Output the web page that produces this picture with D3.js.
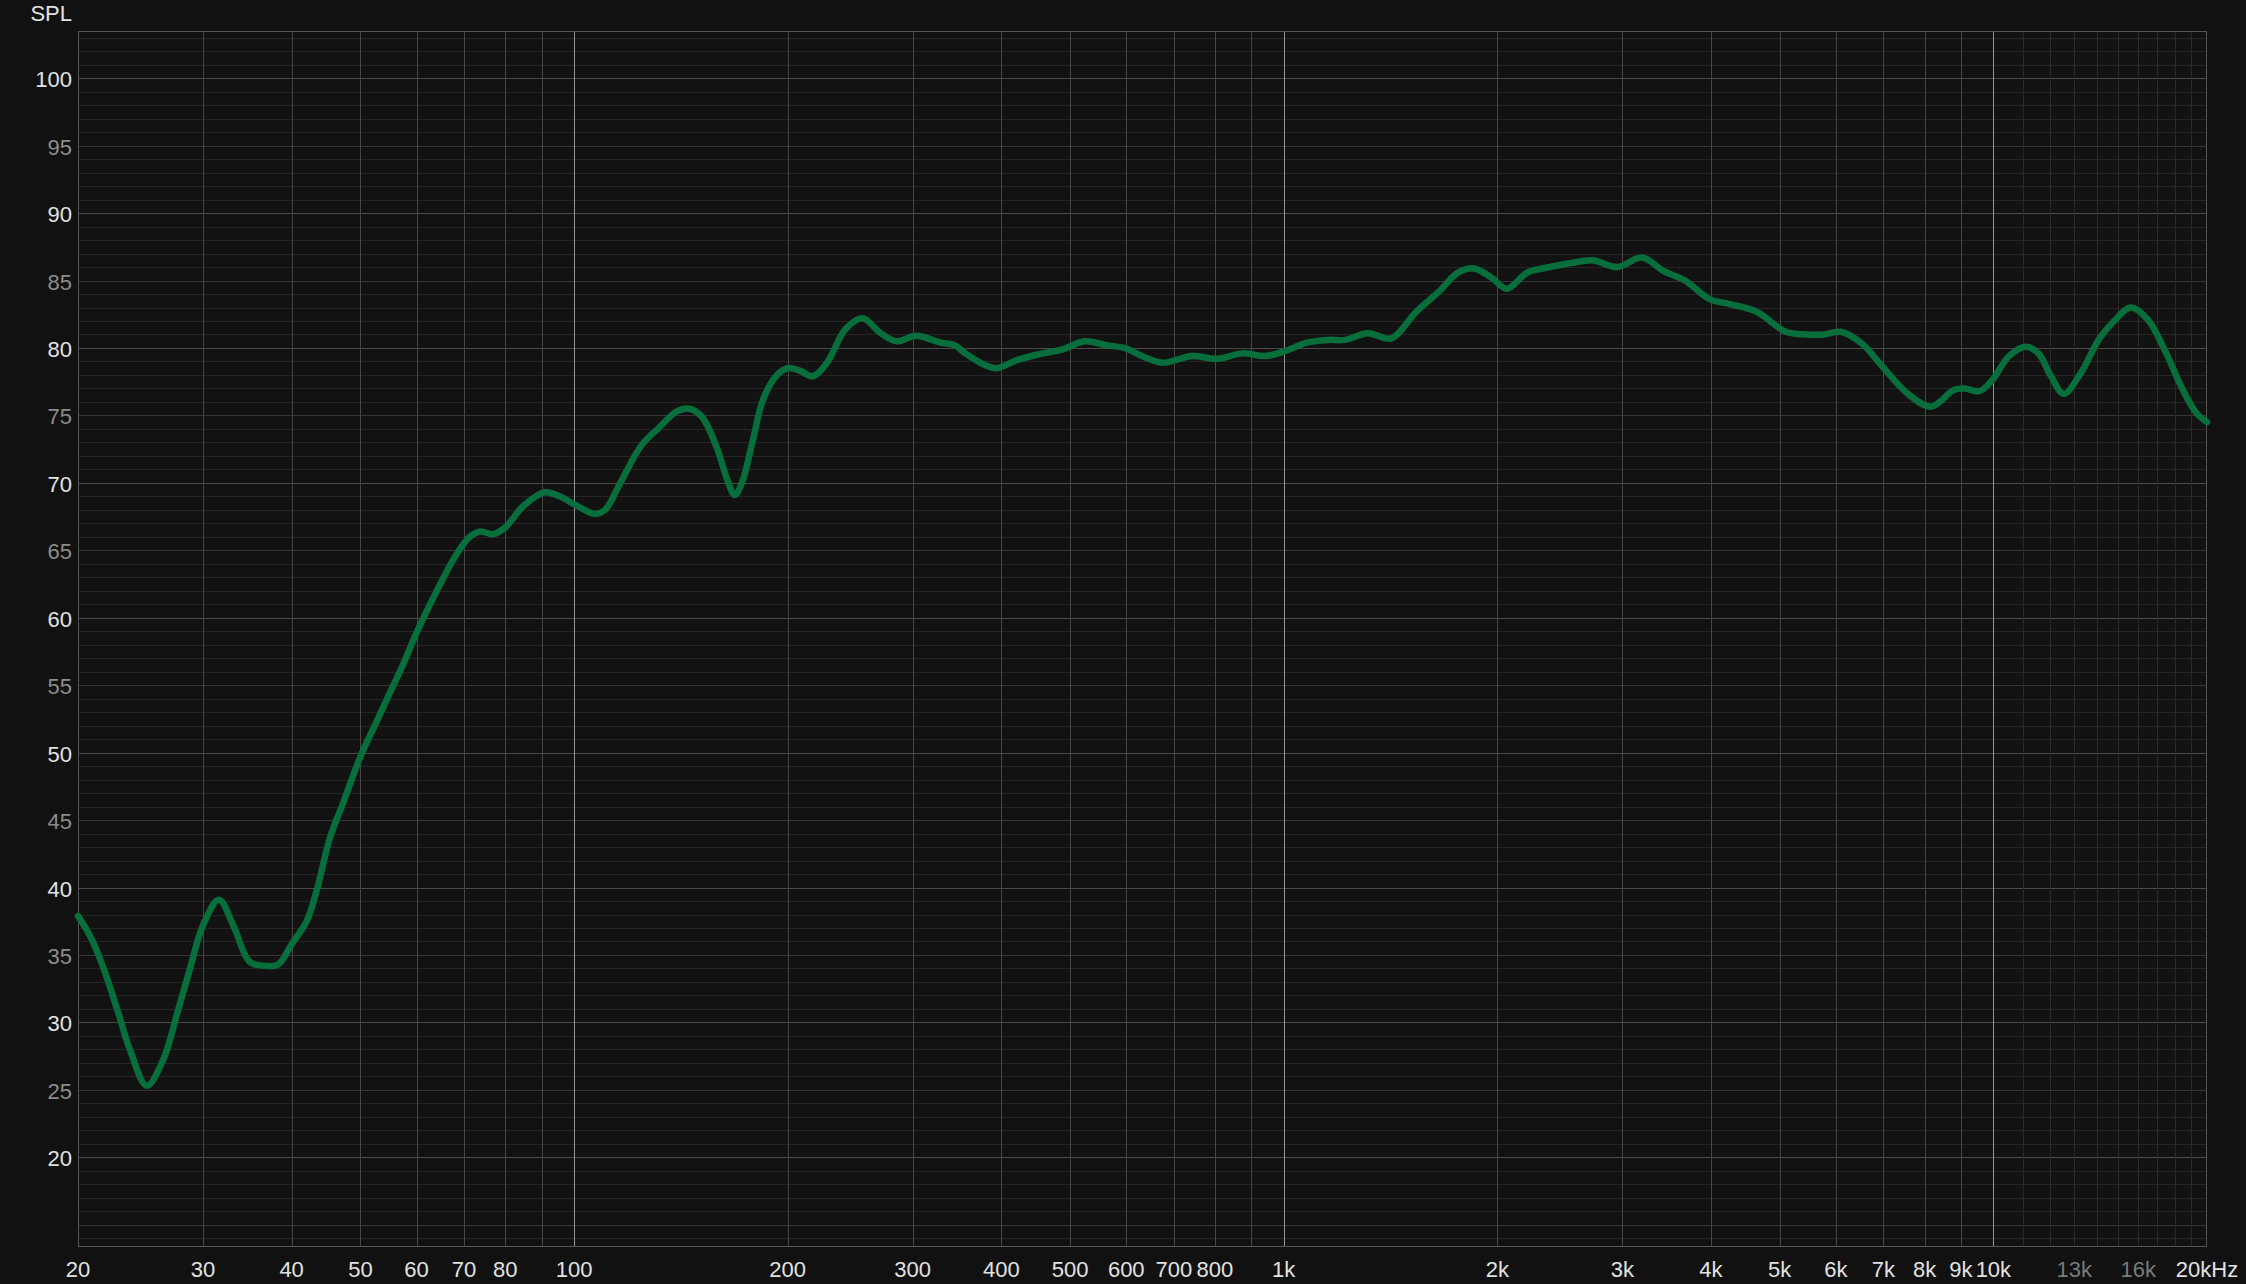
<!DOCTYPE html>
<html>
<head>
<meta charset="utf-8">
<script src="https://cdn.jsdelivr.net/npm/d3@7"></script>
<style>
  html, body { margin: 0; padding: 0; background: #111111; }
  svg { display: block; }
  text { font-family: "Liberation Sans", Arial, sans-serif; }
</style>
</head>
<body>
<svg id="chart" width="2246" height="1284"></svg>
<script>
// ---- data ----
const freqs = [20, 20.8, 21.7, 22.7, 23.7, 25.0, 26.4, 27.6, 28.8, 30.0, 31.6, 33.1, 34.9, 36.5, 38.3, 40.0, 42.0, 43.4, 45.3, 47.3,
  50.0, 52.7, 55.1, 57.5, 60.0, 64.5, 68.1, 71.3, 73.8, 76.9, 80, 84.9, 91.0, 95.4, 101, 107, 110.6, 116.2, 124.5, 131.8,
  139.6, 145.4, 151.4, 158.7, 164.5, 168.4, 172.4, 178.7, 184.7, 193.2, 200, 208.4, 216.8, 227.2, 241.3, 255.1, 270.3, 284.6, 303.4, 328.6,
  344, 356, 377, 394, 421, 458, 488, 524, 563, 596, 638, 676, 742, 806, 874, 942, 1008, 1078, 1154, 1219,
  1314, 1416, 1538, 1656, 1762, 1855, 1964, 2062, 2206, 2374, 2542, 2722, 2954, 3198, 3432, 3676, 3988, 4214, 4634, 5100,
  5462, 5768, 6090, 6520, 6982, 7578, 8172, 8806, 9114, 9560, 9958, 10520, 11110, 11574, 12058, 12566, 13266, 14106, 14798, 15628,
  16504, 17434, 18412, 19312, 20000];
const spl = [37.9, 36.4, 34.1, 31.0, 27.9, 25.3, 27.3, 30.7, 34.1, 37.2, 39.1, 37.2, 34.5, 34.2, 34.3, 35.8, 37.5, 39.8, 43.7, 46.3,
  49.7, 52.3, 54.5, 56.6, 58.9, 62.3, 64.6, 66.0, 66.4, 66.2, 66.7, 68.3, 69.3, 69.0, 68.3, 67.7, 68.0, 70.0, 72.8, 74.1,
  75.3, 75.5, 74.9, 72.7, 70.2, 69.1, 70.0, 73.2, 76.2, 78.0, 78.5, 78.3, 77.9, 78.9, 81.4, 82.2, 81.1, 80.5, 80.9, 80.4,
  80.2, 79.6, 78.8, 78.5, 79.1, 79.6, 79.9, 80.5, 80.2, 80.0, 79.3, 78.9, 79.4, 79.2, 79.6, 79.4, 79.8, 80.4, 80.6, 80.6,
  81.1, 80.7, 82.7, 84.2, 85.6, 85.9, 85.2, 84.4, 85.6, 86.0, 86.3, 86.5, 86.0, 86.7, 85.7, 85.0, 83.6, 83.3, 82.7, 81.2,
  81.0, 81.0, 81.2, 80.35, 78.6, 76.6, 75.65, 76.9, 77.0, 76.8, 77.6, 79.4, 80.1, 79.6, 77.9, 76.6, 78.1, 80.7, 82.0, 83.0,
  82.1, 79.85, 77.1, 75.2, 74.5];

const xTickValues = [20, 30, 40, 50, 60, 70, 80, 100, 200, 300, 400, 500, 600, 700, 800, 1000, 2000, 3000, 4000, 5000, 6000, 7000, 8000, 9000, 10000, 13000, 16000, 20000];
const xTickLabels = ["20", "30", "40", "50", "60", "70", "80", "100", "200", "300", "400", "500", "600", "700", "800", "1k", "2k", "3k", "4k", "5k", "6k", "7k", "8k", "9k", "10k", "13k", "16k", "20kHz"];
const xDimLabels = ["13k", "16k"];
const xGridMid = [30, 40, 50, 60, 70, 80, 90, 200, 300, 400, 500, 600, 700, 800, 900, 2000, 3000, 4000, 5000, 6000, 7000, 8000, 9000];
const xGridDecade = [100, 1000, 10000];
const xGridFine = [11000, 12000, 13000, 14000, 15000, 16000, 17000, 18000, 19000];
const yTickValues = [20, 25, 30, 35, 40, 45, 50, 55, 60, 65, 70, 75, 80, 85, 90, 95, 100];
const yAxisTitle = "SPL";

// ---- layout ----
const L = 78, R = 2207, T = 31, B = 1247;
const svg = d3.select("#chart");
const x = d3.scaleLog().domain([20, 20000]).range([L, R]);
const y = d3.scaleLinear().domain([13.35, 103.5]).range([B, T]);

svg.append("rect").attr("x", 0).attr("y", 0).attr("width", 2246).attr("height", 1284).attr("fill", "#111111");
svg.append("rect").attr("x", L).attr("y", T).attr("width", R - L).attr("height", B - T).attr("fill", "#121212");

const grid = svg.append("g");
const dbLines = d3.range(14, 104);
grid.selectAll("line.h").data(dbLines).enter().append("line")
  .attr("x1", L).attr("x2", R)
  .attr("y1", d => Math.round(y(d)) + 0.5).attr("y2", d => Math.round(y(d)) + 0.5)
  .attr("stroke", d => d % 10 === 0 ? "#4a4a4a" : (d % 5 === 0 ? "#363636" : "#252525"))
  .attr("stroke-width", 1);

function vlines(vals, color) {
  grid.selectAll(null).data(vals).enter().append("line")
    .attr("x1", d => Math.round(x(d)) + 0.5).attr("x2", d => Math.round(x(d)) + 0.5)
    .attr("y1", T).attr("y2", B)
    .attr("stroke", color).attr("stroke-width", 1);
}
vlines(xGridFine, "#2a2a2a");
vlines(xGridMid, "#474747");
vlines(xGridDecade, "#959595");

svg.append("rect").attr("x", L + 0.5).attr("y", T + 0.5).attr("width", R - L - 1).attr("height", B - T - 1)
  .attr("fill", "none").attr("stroke", "#555555").attr("stroke-width", 1);

const pts = freqs.map((f, i) => [f, spl[i]]);
const line = d3.line().x(d => x(d[0])).y(d => y(d[1])).curve(d3.curveCatmullRom.alpha(0.5));
svg.append("path").datum(pts).attr("d", line)
  .attr("fill", "none").attr("stroke", "#086e3b").attr("stroke-width", 6.5)
  .attr("stroke-linejoin", "round").attr("stroke-linecap", "round");

svg.selectAll("text.ylab").data(yTickValues).enter().append("text")
  .attr("x", 72).attr("y", d => y(d) + 9)
  .attr("text-anchor", "end").attr("font-size", 22)
  .attr("fill", d => d % 10 === 0 ? "#e2e2e2" : "#8c8c8c")
  .text(d => d);

svg.selectAll("text.xlab").data(xTickValues).enter().append("text")
  .attr("x", d => x(d)).attr("y", 1277)
  .attr("text-anchor", "middle").attr("font-size", 22)
  .attr("fill", (d, i) => xDimLabels.includes(xTickLabels[i]) ? "#7a7a7a" : "#e2e2e2")
  .text((d, i) => xTickLabels[i]);

svg.append("text").attr("x", 72).attr("y", 21).attr("text-anchor", "end")
  .attr("font-size", 22).attr("fill", "#e2e2e2").text(yAxisTitle);
</script>
</body>
</html>
